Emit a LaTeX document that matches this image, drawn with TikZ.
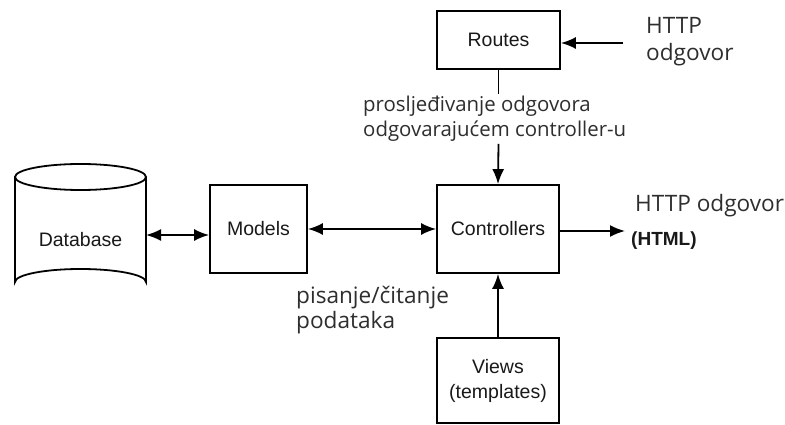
\documentclass[tikz,border=0pt]{standalone}
\usepackage{fontspec}
\setmainfont{Open Sans}
\newfontfamily\boxfont{Liberation Sans}
\usetikzlibrary{arrows.meta,shapes.geometric}
\definecolor{txt}{HTML}{2E2E2E}
\begin{document}
\begin{tikzpicture}[x=1pt,y=-1pt,
  blk/.style={draw=black,line width=1.8pt,fill=white,inner sep=0pt,font=\boxfont\fontsize{19.5}{24}\selectfont,text=black!90,align=center},
  lbl/.style={text=txt,font=\fontsize{22.6}{27}\selectfont,align=left,inner sep=0pt},
  conn/.style={line width=1.8pt,-{Latex[length=15pt,width=12pt]}},
  bconn/.style={line width=1.8pt,{Latex[length=15pt,width=12pt]}-{Latex[length=15pt,width=12pt]}}]
\clip (0,0) rectangle (785,425);
\fill[white] (0,0) rectangle (785,425);
% cylinder
\draw[line width=1.8pt,fill=white] (15,177) -- (15,282) arc[start angle=180,end angle=360,x radius=65.5,y radius=13] -- (146,177);
\draw[line width=1.8pt] (80.5,177) ellipse[x radius=65.5,y radius=13];
\node[font=\boxfont\fontsize{19.5}{24}\selectfont,text=black!90,inner sep=0pt] (db) at (80.5,240) {Database};
\coordinate (dbr) at (146,235);
% boxes
\node[blk,minimum width=97pt,minimum height=88pt] (models) at (258.5,229) {Models};
\node[blk,minimum width=122pt,minimum height=88pt] (ctrl) at (498,229) {Controllers};
\node[blk,minimum width=123pt,minimum height=58pt] (routes) at (498.5,40) {Routes};
\node[blk,minimum width=122pt,minimum height=85pt] (views) at (498,380.5) {Views\\[1pt](templates)};
% labels
\node[lbl,anchor=west] (http1) at (646,42) {HTTP\\odgovor};
\node[lbl,anchor=west,fill=white,inner sep=2pt,font=\fontsize{20.4}{25}\selectfont] (fwd) at (361,119) {prosljeđivanje odgovora\\odgovarajućem controller-u};
\node[lbl,anchor=west] (http2) at (635,206) {HTTP odgovor};
\node[anchor=west,inner sep=0pt,font=\boxfont\bfseries\fontsize{19}{22}\selectfont,text=black!90] (html) at (631,241) {(HTML)};
\node[lbl,anchor=west,font=\fontsize{22.6}{25}\selectfont] (rw) at (296,310) {pisanje/čitanje\\podataka};
\coordinate (httpin) at (623,43);
\coordinate (httpout) at (625,231);
% connectors
\draw[bconn] (dbr) -- (models.west |- dbr);
\draw[bconn] (models.east) -- (ctrl.west);
\draw[conn] (httpin) -- (routes.east |- httpin);
\draw[conn] (ctrl.east |- httpout) -- (httpout);
\draw[conn] (views.north) -- (ctrl.south);
\draw[line width=1.8pt] (routes.south) -- (fwd.north -| routes.south);
\draw[conn] (fwd.south -| routes.south) -- (ctrl.north);
\end{tikzpicture}
\end{document}
